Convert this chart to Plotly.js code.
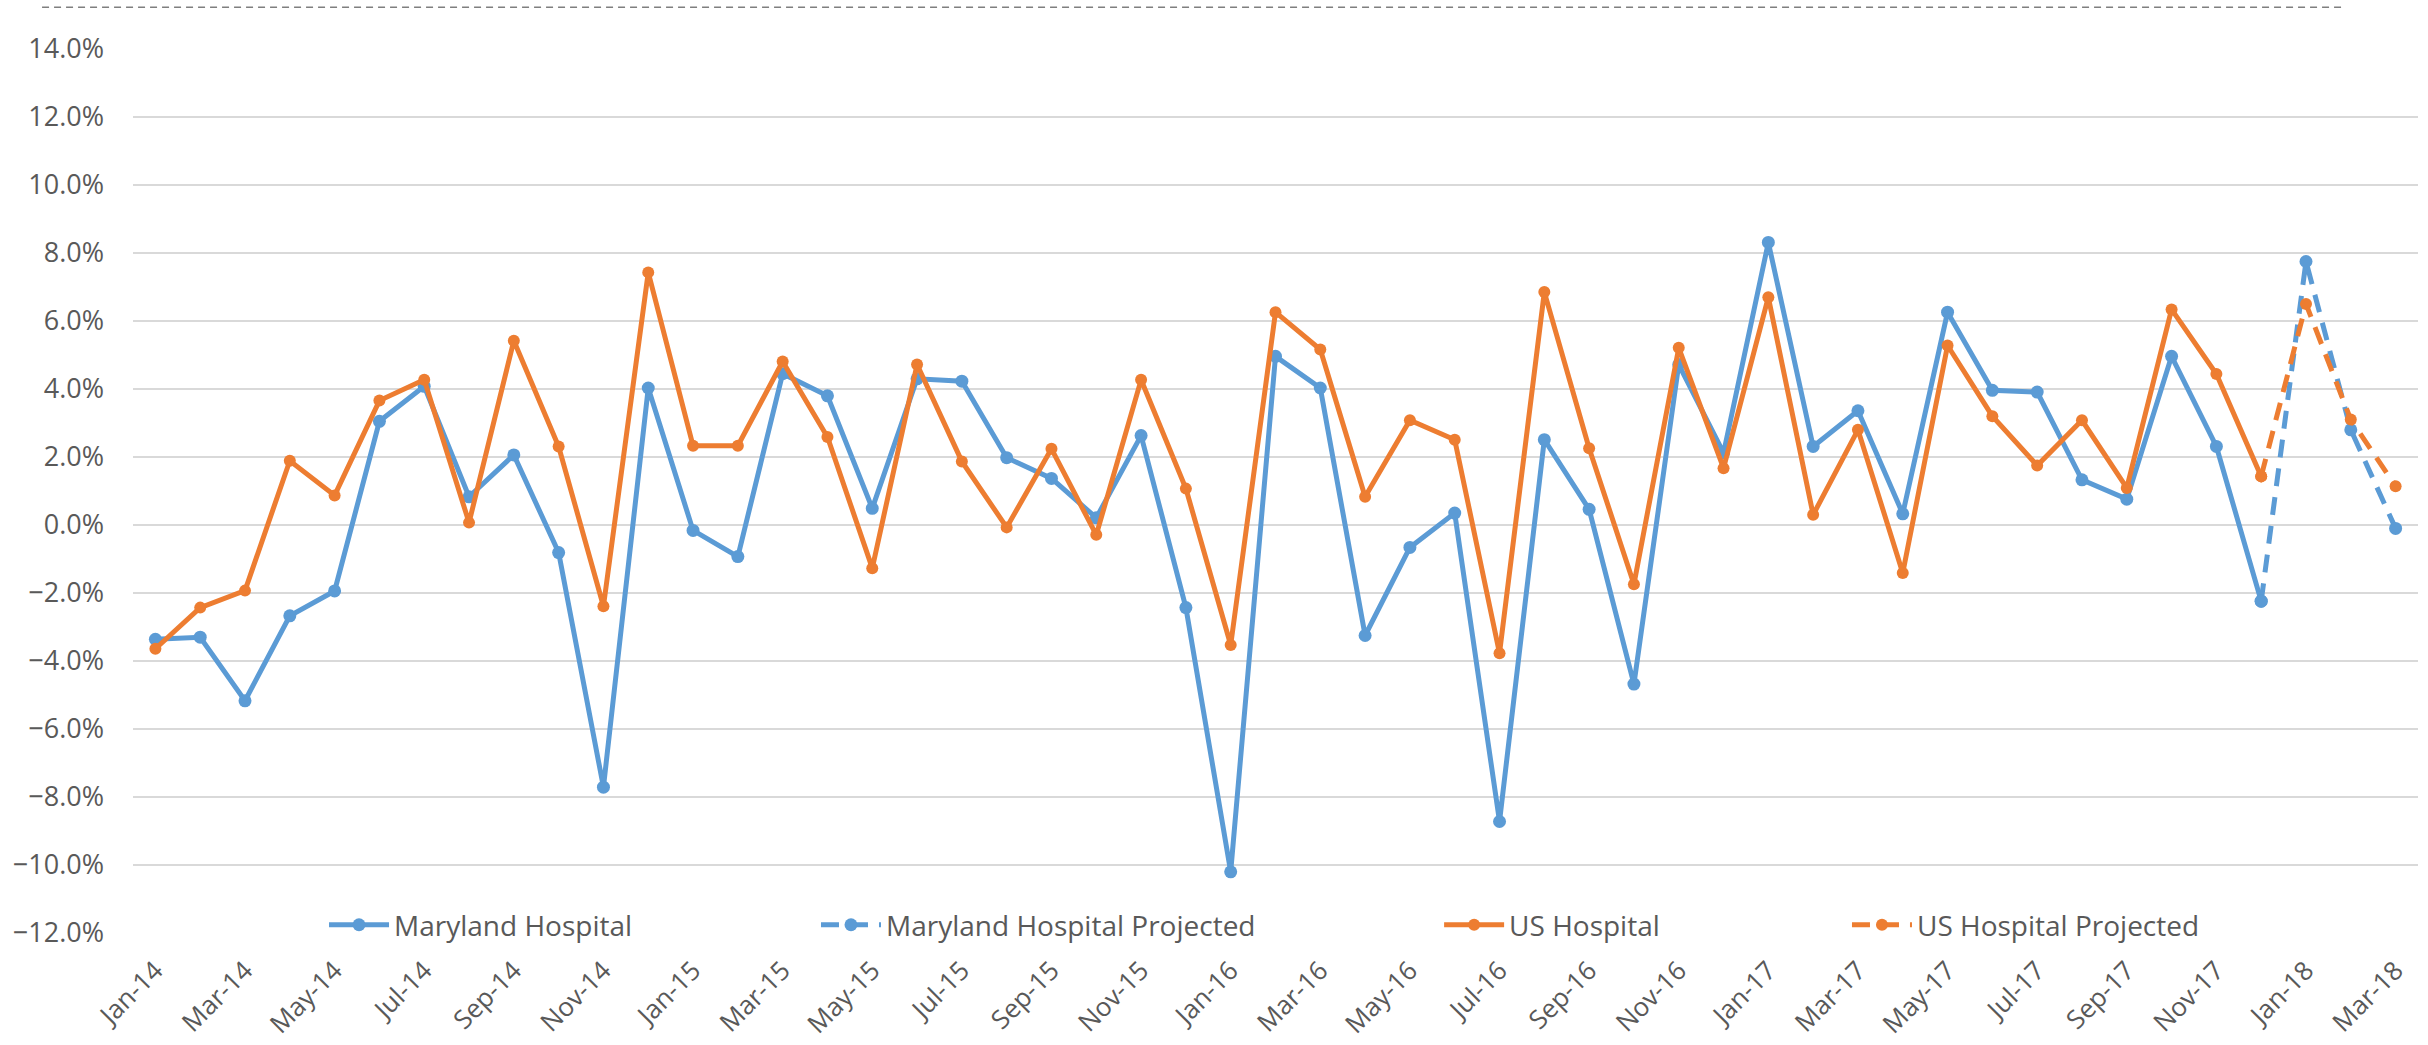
<!DOCTYPE html>
<html>
<head>
<meta charset="utf-8">
<script src="https://cdn.plot.ly/plotly-3.0.1.min.js"></script>
<style>
html,body{margin:0;padding:0;background:#fff;}
#chart{width:2428px;height:1045px;}
</style>
</head>
<body>
<div id="chart"></div>
<script>
const months = ["Jan-14","Feb-14","Mar-14","Apr-14","May-14","Jun-14","Jul-14","Aug-14","Sep-14","Oct-14","Nov-14","Dec-14",
"Jan-15","Feb-15","Mar-15","Apr-15","May-15","Jun-15","Jul-15","Aug-15","Sep-15","Oct-15","Nov-15","Dec-15",
"Jan-16","Feb-16","Mar-16","Apr-16","May-16","Jun-16","Jul-16","Aug-16","Sep-16","Oct-16","Nov-16","Dec-16",
"Jan-17","Feb-17","Mar-17","Apr-17","May-17","Jun-17","Jul-17","Aug-17","Sep-17","Oct-17","Nov-17","Dec-17",
"Jan-18","Feb-18","Mar-18"];

const actualMonths = months.slice(0, 48);
const projectedMonths = ["Dec-17","Jan-18","Feb-18","Mar-18"];

const marylandHospital = [-3.36,-3.30,-5.17,-2.67,-1.94,3.05,4.08,0.83,2.06,-0.81,-7.71,4.03,
-0.16,-0.93,4.45,3.80,0.49,4.30,4.23,1.98,1.37,0.21,2.63,-2.43,
-10.20,4.96,4.03,-3.25,-0.66,0.35,-8.72,2.51,0.46,-4.68,4.72,2.12,
8.31,2.31,3.36,0.33,6.26,3.96,3.91,1.33,0.76,4.96,2.31,-2.24];

const marylandProjected = [-2.24,7.75,2.80,-0.10];

const usHospital = [-3.64,-2.43,-1.93,1.89,0.87,3.66,4.27,0.07,5.42,2.31,-2.39,7.43,
2.33,2.33,4.81,2.59,-1.27,4.72,1.87,-0.07,2.24,-0.29,4.27,1.07,
-3.53,6.26,5.16,0.83,3.08,2.51,-3.77,6.85,2.26,-1.74,5.21,1.67,
6.70,0.30,2.80,-1.41,5.28,3.20,1.75,3.08,1.09,6.34,4.44,1.43];

const usProjected = [1.43,6.50,3.10,1.14];

const tickLabels = months.filter((m, i) => i % 2 === 0);

const BLUE = "#5B9BD5", ORANGE = "#ED7D31", TXT = "#595959";
const FONT = "Open Sans, Noto Sans, sans-serif";

const traces = [
  {name:"Maryland Hospital", x:actualMonths, y:marylandHospital, type:"scatter", mode:"lines+markers",
   line:{color:BLUE, width:5}, marker:{color:BLUE, size:13, symbol:"circle"}, legend:"legend"},
  {name:"Maryland Hospital Projected", x:projectedMonths, y:marylandProjected, type:"scatter", mode:"lines+markers",
   line:{color:BLUE, width:5, dash:"18px,11px"}, marker:{color:BLUE, size:13, symbol:"circle"}, legend:"legend2"},
  {name:"US Hospital", x:actualMonths, y:usHospital, type:"scatter", mode:"lines+markers",
   line:{color:ORANGE, width:5}, marker:{color:ORANGE, size:12, symbol:"circle"}, legend:"legend3"},
  {name:"US Hospital Projected", x:projectedMonths, y:usProjected, type:"scatter", mode:"lines+markers",
   line:{color:ORANGE, width:5, dash:"18px,11px"}, marker:{color:ORANGE, size:12, symbol:"circle"}, legend:"legend4"}
];

const legBase = {orientation:"h", yanchor:"middle", y:0.009, xanchor:"left", bgcolor:"rgba(0,0,0,0)",
  font:{family:FONT, size:28, color:TXT}, itemwidth:60};

const layout = {
  width:2428, height:1045,
  paper_bgcolor:"#fff", plot_bgcolor:"#fff",
  margin:{l:133, r:10, t:49, b:112},
  showlegend:true,
  legend: Object.assign({}, legBase, {x:0.0836}),
  legend2: Object.assign({}, legBase, {x:0.2989}),
  legend3: Object.assign({}, legBase, {x:0.5716}),
  legend4: Object.assign({}, legBase, {x:0.7501}),
  xaxis:{type:"category", categoryorder:"array", categoryarray:months, range:[-0.5, 50.5],
    tickvals:tickLabels, ticktext:tickLabels, tickangle:-45, showgrid:false, zeroline:false, showline:false,
    ticks:"", ticklabelstandoff:16, tickfont:{family:FONT, size:26, color:TXT}},
  yaxis:{range:[-12, 14], dtick:2, tick0:0, tickformat:".1f", ticksuffix:"%", showgrid:true,
    gridcolor:"#D9D9D9", gridwidth:2, zeroline:false, showline:false, ticks:"", ticklabelstandoff:28,
    tickfont:{family:FONT, size:27, color:TXT}},
  shapes:[{type:"line", xref:"paper", yref:"paper", x0:-0.0398, x1:0.968, y0:1.0472, y1:1.0472,
    line:{color:"#7F7F7F", width:1.5, dash:"7px,5px"}}]
};

Plotly.newPlot("chart", traces, layout, {displayModeBar:false, staticPlot:true});
</script>
</body>
</html>
